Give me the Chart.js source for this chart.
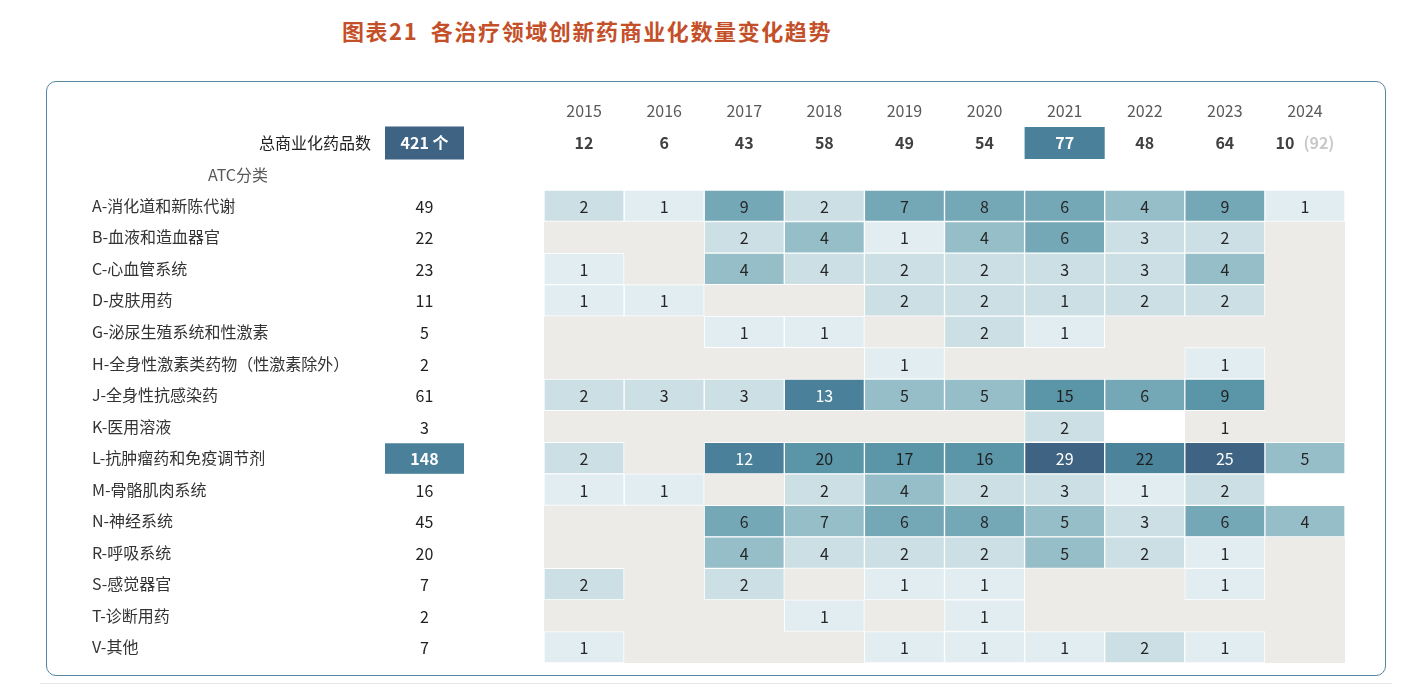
<!DOCTYPE html>
<html>
<head>
<meta charset="utf-8">
<script src="https://cdn.jsdelivr.net/npm/chart.js@4.4.1/dist/chart.umd.min.js"></script>
<style>
  html, body { margin: 0; padding: 0; background: #ffffff; }
  #wrap { position: relative; width: 1422px; height: 698px; overflow: hidden; }
  #title { position: absolute; left: 0; top: 14px; width: 1174px; text-align: center;
           font: 700 22px "Noto Sans CJK SC", sans-serif; color: #c4502a; letter-spacing: 1.6px; white-space: nowrap; }
  #card { position: absolute; left: 46px; top: 81px; width: 1340px; height: 595px; box-sizing: border-box;
          border: 1.5px solid #5686a3; border-radius: 10px; }
  #rule { position: absolute; left: 40px; top: 683px; width: 1352px; height: 1px; background: #e8e8e8; }
  canvas { position: absolute; left: 0; top: 0; }
</style>
</head>
<body>
<div id="wrap">
  <div id="title">图表21&ensp;各治疗领域创新药商业化数量变化趋势</div>
  <div id="card"></div>
  <div id="rule"></div>
  <canvas id="c" width="1422" height="698"></canvas>
</div>
<script>
// ---------------- DATA ----------------
const years = ['2015','2016','2017','2018','2019','2020','2021','2022','2023','2024'];
const atcLabels = [
  'A-消化道和新陈代谢','B-血液和造血器官','C-心血管系统','D-皮肤用药','G-泌尿生殖系统和性激素',
  'H-全身性激素类药物（性激素除外）','J-全身性抗感染药','K-医用溶液','L-抗肿瘤药和免疫调节剂',
  'M-骨骼肌肉系统','N-神经系统','R-呼吸系统','S-感觉器官','T-诊断用药','V-其他'
];
const rowTotals  = [49, 22, 23, 11, 5, 2, 61, 3, 148, 16, 45, 20, 7, 2, 7];
const yearTotals = [12, 6, 43, 58, 49, 54, 77, 48, 64, 10];
const yearTotalNote2024 = '(92)';
const grandTotalLabel = '421 个';
const highlightYear = '2021';
const highlightRow = 'L-抗肿瘤药和免疫调节剂';

// counts per year, in atcLabels order (null = no cell, 0 = blank cell)
const v2015 = [2, null, 1, 1, null, null, 2, null, 2, 1, null, null, 2, null, 1];
const v2016 = [1, null, null, 1, null, null, 3, null, null, 1, null, null, null, null, null];
const v2017 = [9, 2, 4, null, 1, null, 3, null, 12, null, 6, 4, 2, null, null];
const v2018 = [2, 4, 4, null, 1, null, 13, null, 20, 2, 7, 4, null, 1, null];
const v2019 = [7, 1, 2, 2, null, 1, 5, null, 17, 4, 6, 2, 1, null, 1];
const v2020 = [8, 4, 2, 2, 2, null, 5, null, 16, 2, 8, 2, 1, 1, 1];
const v2021 = [6, 6, 3, 1, 1, null, 15, 2, 29, 3, 5, 5, null, null, 1];
const v2022 = [4, 3, 3, 2, null, null, 6, 0, 22, 1, 3, 2, null, null, 2];
const v2023 = [9, 2, 4, 2, null, 1, 9, 1, 25, 2, 6, 1, 1, null, 1];
const v2024 = [1, null, null, null, null, null, null, null, 5, 0, 4, null, null, null, null];
const countsByYear = [v2015, v2016, v2017, v2018, v2019, v2020, v2021, v2022, v2023, v2024];

// shading level of each cell (-1 = unfilled)
const shadeByYear = [
  [1, null, 0, 0, null, null, 1, null, 1, 0, null, null, 1, null, 0],
  [0, null, null, 0, null, null, 1, null, null, 0, null, null, null, null, null],
  [3, 1, 2, null, 0, null, 1, null, 5, null, 3, 2, 1, null, null],
  [1, 2, 1, null, 0, null, 5, null, 4, 1, 2, 1, null, 0, null],
  [3, 0, 1, 1, null, 0, 2, null, 4, 2, 3, 1, 0, null, 0],
  [3, 2, 1, 1, 1, null, 2, null, 4, 1, 3, 1, 0, 0, 0],
  [3, 3, 1, 1, 0, null, 4, 1, 6, 1, 2, 2, null, null, 0],
  [2, 1, 1, 1, null, null, 3, 8, 7, 0, 1, 1, null, null, 1],
  [3, 1, 2, 1, null, 0, 4, -1, 6, 1, 3, 0, 0, null, 0],
  [0, null, null, null, null, null, null, null, 2, 8, 2, null, null, null, null]
];

// ---------------- STYLE ----------------
const shadePalette = [
  { bg: '#e1edf0', fg: '#262626' },
  { bg: '#cbdfe4', fg: '#262626' },
  { bg: '#95bec8', fg: '#262626' },
  { bg: '#74a8b6', fg: '#262626' },
  { bg: '#5a96a7', fg: '#1e1e1e' },
  { bg: '#4a8099', fg: '#ffffff' },
  { bg: '#3e6383', fg: '#ffffff' },
  { bg: '#4b839b', fg: '#1e1e1e' },
  { bg: '#ffffff', fg: '#262626' }
];
const GRID_BG = '#ecebe8';
const FONT = '"Noto Sans CJK SC", "Noto Sans", sans-serif';

function shadeOf(yearIdx, rowIdx) {
  const s = shadeByYear[yearIdx][rowIdx];
  return (s === null || s === undefined) ? -1 : s;
}

const datasets = years.map((yr, j) => ({
  label: yr,
  data: countsByYear[j].map(v => (v === null ? null : [j, j + 1])),
  backgroundColor: ctx => {
    const s = shadeOf(j, ctx.dataIndex);
    return s < 0 ? 'rgba(0,0,0,0)' : shadePalette[s].bg;
  },
  borderColor: ctx => (shadeOf(j, ctx.dataIndex) < 0 ? 'rgba(0,0,0,0)' : '#ffffff'),
  borderWidth: 1,
  borderSkipped: false,
  grouped: false,
  barPercentage: 1,
  categoryPercentage: 1
}));

const gridBackground = {
  id: 'gridBackground',
  beforeDatasetsDraw(chart) {
    const { ctx, chartArea: a } = chart;
    ctx.save();
    ctx.fillStyle = GRID_BG;
    ctx.fillRect(a.left, a.top, a.right - a.left, a.bottom - a.top);
    ctx.restore();
  }
};

const cellLabels = {
  id: 'cellLabels',
  afterDatasetsDraw(chart) {
    const { ctx } = chart;
    ctx.save();
    ctx.font = '16px ' + FONT;
    ctx.textAlign = 'center';
    ctx.textBaseline = 'middle';
    chart.data.datasets.forEach((ds, j) => {
      const meta = chart.getDatasetMeta(j);
      meta.data.forEach((el, i) => {
        const v = countsByYear[j][i];
        if (v === null || v === 0) return;
        const s = shadeOf(j, i);
        ctx.fillStyle = s < 0 ? '#262626' : shadePalette[s].fg;
        ctx.fillText(String(v), (el.x + el.base) / 2, el.y + 1);
      });
    });
    ctx.restore();
  }
};

const headers = {
  id: 'headers',
  afterDraw(chart) {
    const { ctx, chartArea: a } = chart;
    const xs = chart.scales.x, ys = chart.scales.y;
    const totalColX = 424.5, boxW = 79;
    ctx.save();
    ctx.textBaseline = 'middle';
    ctx.textAlign = 'center';
    // year labels
    ctx.font = '16px ' + FONT;
    ctx.fillStyle = '#595959';
    years.forEach((yr, j) => ctx.fillText(yr, xs.getPixelForValue(j + 0.5), a.top - 79));
    // year totals
    const ty = a.top - 47;
    years.forEach((yr, j) => {
      const cx = xs.getPixelForValue(j + 0.5);
      ctx.font = 'bold 16px ' + FONT;
      if (yr === highlightYear) {
        const l = xs.getPixelForValue(j), r = xs.getPixelForValue(j + 1);
        ctx.fillStyle = '#4a8099';
        ctx.fillRect(l, ty - 16, r - l, 32);
        ctx.fillStyle = '#ffffff';
        ctx.fillText(String(yearTotals[j]), cx, ty);
      } else if (j === years.length - 1) {
        const t1 = String(yearTotals[j]);
        const gap = 9;
        const w1 = ctx.measureText(t1).width, w2 = ctx.measureText(yearTotalNote2024).width;
        const start = cx - (w1 + gap + w2) / 2;
        ctx.textAlign = 'left';
        ctx.fillStyle = '#404040';
        ctx.fillText(t1, start, ty);
        ctx.fillStyle = '#c9c9c9';
        ctx.fillText(yearTotalNote2024, start + w1 + gap, ty);
        ctx.textAlign = 'center';
      } else {
        ctx.fillStyle = '#404040';
        ctx.fillText(String(yearTotals[j]), cx, ty);
      }
    });
    // grand total
    ctx.font = '16px ' + FONT;
    ctx.fillStyle = '#222222';
    ctx.textAlign = 'right';
    ctx.fillText('总商业化药品数', 371, ty);
    ctx.fillStyle = '#3e6383';
    ctx.fillRect(totalColX - boxW / 2, ty - 16.5, boxW, 33);
    ctx.fillStyle = '#ffffff';
    ctx.font = 'bold 16px ' + FONT;
    ctx.textAlign = 'center';
    ctx.fillText(grandTotalLabel, totalColX, ty);
    // ATC header
    ctx.font = '16px ' + FONT;
    ctx.fillStyle = '#595959';
    ctx.fillText('ATC分类', 238, a.top - 15);
    // row totals
    const rowH = (a.bottom - a.top) / atcLabels.length;
    atcLabels.forEach((lab, i) => {
      const cy = ys.getPixelForValue(i);
      if (lab === highlightRow) {
        ctx.fillStyle = '#4a8099';
        ctx.fillRect(totalColX - boxW / 2, cy - rowH / 2 + 1, boxW, rowH - 1);
        ctx.fillStyle = '#ffffff';
        ctx.font = 'bold 16px ' + FONT;
      } else {
        ctx.fillStyle = '#222222';
        ctx.font = '16px ' + FONT;
      }
      ctx.fillText(String(rowTotals[i]), totalColX, cy + 1);
    });
    ctx.restore();
  }
};

new Chart(document.getElementById('c'), {
  type: 'bar',
  data: { labels: atcLabels, datasets },
  options: {
    indexAxis: 'y',
    responsive: false,
    animation: false,
    events: [],
    layout: { padding: { left: 92, right: 77, top: 190, bottom: 35 } },
    plugins: { legend: { display: false }, tooltip: { enabled: false }, title: { display: false } },
    scales: {
      x: { type: 'linear', min: 0, max: 10, display: false },
      y: {
        type: 'category',
        offset: true,
        grid: { display: false },
        border: { display: false },
        ticks: { crossAlign: 'far', padding: 0, color: '#333333', font: { size: 16, family: FONT } },
        afterFit: s => { s.width = 452; }
      }
    }
  },
  plugins: [gridBackground, cellLabels, headers]
});
</script>
</body>
</html>
